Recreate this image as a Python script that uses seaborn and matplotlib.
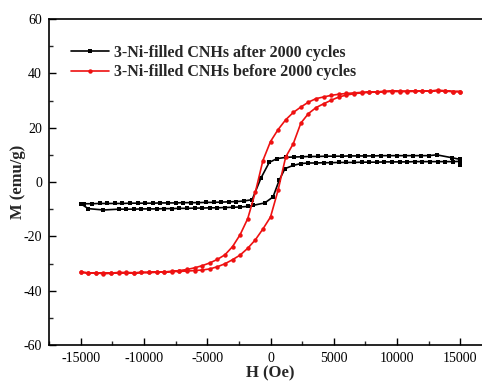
import numpy as np
import pandas as pd
import matplotlib
matplotlib.use("Agg")
import matplotlib.pyplot as plt
import seaborn as sns
from matplotlib.ticker import MultipleLocator

# ---------------- data ----------------
# 3-Ni-filled CNHs after 2000 cycles (black)
H_after_desc = [15000, 15000, 14375, 13125, 12500, 11875, 11250, 10625, 10000, 9375, 8750,
                8125, 7500, 6875, 6250, 5625, 5000, 4375, 3750, 3125, 2500, 1875, 1250, 500,
                -100, -750, -1450, -2100, -2700, -3300, -3900, -4500, -5100, -5700, -6300,
                -6900, -7500, -8100, -8700, -9300, -9900, -10500, -11100, -11700, -12300,
                -12900, -13500, -14100, -14700, -15000]
M_after_desc = [6.3, 8.3, 8.9, 10.0, 9.7, 9.7, 9.7, 9.7, 9.7, 9.7, 9.7,
                9.6, 9.6, 9.6, 9.6, 9.5, 9.5, 9.5, 9.4, 9.4, 9.3, 9.2, 9.1, 8.6,
                7.2, 1.5, -6.5, -7.0, -7.2, -7.3, -7.4, -7.5, -7.5, -7.6, -7.6,
                -7.6, -7.7, -7.7, -7.7, -7.8, -7.8, -7.8, -7.8, -7.9, -7.9,
                -7.9, -7.9, -8.0, -8.0, -8.0]
H_after_asc = [-15000, -14400, -13200, -12000, -11400, -10800, -10200, -9600, -9000, -8400,
               -7800, -7200, -6600, -6000, -5400, -4800, -4200, -3600, -3000, -2400, -1800,
               -1375, -450, 200, 685, 1135, 1790, 2400, 3000, 3600, 4200, 4800, 5400, 6000,
               6600, 7200, 7800, 8400, 9000, 9600, 10200, 10800, 11400, 12000, 12600, 13200,
               13800, 14400, 15000, 15000]
M_after_asc = [-8.0, -9.8, -10.3, -10.0, -10.0, -10.0, -9.9, -9.9, -9.9, -9.8,
               -9.8, -9.7, -9.7, -9.6, -9.6, -9.5, -9.5, -9.4, -9.3, -9.2, -9.0,
               -8.6, -7.7, -5.5, 0.6, 4.9, 6.1, 6.8, 7.0, 7.0, 7.1, 7.1, 7.2, 7.2,
               7.2, 7.3, 7.3, 7.3, 7.4, 7.4, 7.4, 7.4, 7.5, 7.5, 7.5, 7.5,
               7.5, 7.5, 7.6, 6.8]

# 3-Ni-filled CNHs before 2000 cycles (red)
H_before_desc = [15000, 14400, 13800, 13200, 12600, 12000, 11400, 10800, 10200, 9600, 9000,
                 8400, 7800, 7200, 6600, 6000, 5400, 4800, 4200, 3600, 3000, 2400, 1800, 1200,
                 600, 0, -600, -1200, -1800, -2400, -3000, -3600, -4200, -4800, -5400, -6000,
                 -6600, -7200, -7800, -8400, -9000, -9600, -10200, -10800, -11400, -12000,
                 -12600, -13200, -13800, -14400, -15000]
M_before_desc = [33.3, 33.3, 33.6, 33.8, 33.5, 33.4, 33.4, 33.3, 33.4, 33.5, 33.4,
                 33.2, 33.1, 33.0, 32.8, 32.6, 32.3, 31.9, 31.3, 30.7, 29.4, 27.6, 25.6, 22.9,
                 19.3, 14.9, 7.9, -3.8, -13.5, -19.4, -23.8, -26.8, -28.5, -29.8, -30.8, -31.6,
                 -32.2, -32.6, -32.9, -33.1, -33.2, -33.3, -33.3, -33.4, -33.3, -33.3,
                 -33.5, -33.4, -33.5, -33.4, -33.2]
H_before_asc = [-15000, -14400, -13800, -13200, -12600, -12000, -11400, -10800, -10200, -9600,
                -9000, -8400, -7800, -7200, -6600, -6000, -5400, -4800, -4200, -3600, -3000,
                -2400, -1800, -1200, -600, 0, 600, 1200, 1800, 2400, 3000, 3600, 4200, 4800,
                5400, 6000, 6600, 7200, 7800, 8400, 9000, 9600, 10200, 10800, 11400, 12000,
                12600, 13200, 13800, 14400, 15000]
M_before_asc = [-33.2, -33.5, -33.4, -33.8, -33.6, -33.5, -33.4, -33.5, -33.3, -33.3,
                -33.2, -33.1, -33.0, -32.9, -32.8, -32.6, -32.4, -32.0, -31.2, -30.1, -28.6,
                -26.9, -24.4, -21.3, -17.3, -12.9, -3.0, 9.2, 14.1, 21.7, 25.2, 27.4, 28.8, 30.1,
                31.3, 32.0, 32.5, 32.8, 33.0, 33.1, 33.2, 33.3, 33.3, 33.4, 33.4, 33.5,
                33.5, 33.6, 33.4, 33.3, 33.3]

labels = ["3-Ni-filled CNHs after 2000 cycles", "3-Ni-filled CNHs before 2000 cycles"]
x_ticks = [-15000, -10000, -5000, 0, 5000, 10000, 15000]
y_ticks = [-60, -40, -20, 0, 20, 40, 60]

# ---------------- plot ----------------
sns.set_style("ticks")
plt.rcParams["font.family"] = ["Liberation Serif", "DejaVu Serif"]

fig = plt.figure(figsize=(4.82, 3.81), dpi=100)
ax = fig.add_axes([49 / 482, 36 / 381, 443 / 482, 326 / 381])

series = [
    (H_after_desc + H_after_asc, M_after_desc + M_after_asc, "black", "s", labels[0]),
    (H_before_desc + H_before_asc, M_before_desc + M_before_asc, "#ee1111", "o", labels[1]),
]
for hx, my, col, mk, lab in series:
    df = pd.DataFrame({"H": hx, "M": my})
    sns.lineplot(data=df, x="H", y="M", sort=False, estimator=None, ax=ax,
                 color=col, marker=mk, markersize=3.2, markeredgewidth=0,
                 linewidth=1.2, label=lab)

ax.set_xlim(-17500, 17500)
ax.set_ylim(-60, 60)
ax.set_xticks(x_ticks)
ax.set_xticklabels([str(v) for v in x_ticks])
ax.set_yticks(y_ticks)
ax.set_yticklabels([str(v) for v in y_ticks])
ax.xaxis.set_minor_locator(MultipleLocator(2500))
ax.yaxis.set_minor_locator(MultipleLocator(10))
ax.tick_params(which="major", direction="in", length=5, width=1, labelsize=10,
               colors="black", pad=5)
ax.tick_params(which="minor", direction="in", length=3, width=1)
for s in ax.spines.values():
    s.set_linewidth(1.2)
    s.set_color("black")

ax.set_xlabel("H (Oe)", fontsize=12, fontweight="bold", labelpad=0)
ax.set_ylabel("M (emu/g)", fontsize=12, fontweight="bold", labelpad=-2)

leg = ax.legend(loc="upper left", bbox_to_anchor=(0.035, 0.94), frameon=False,
                prop={"weight": "bold", "size": 11.5}, handlelength=2.4,
                handletextpad=0.3, labelspacing=0.2, borderaxespad=0)

fig.savefig("out.png", dpi=100)
